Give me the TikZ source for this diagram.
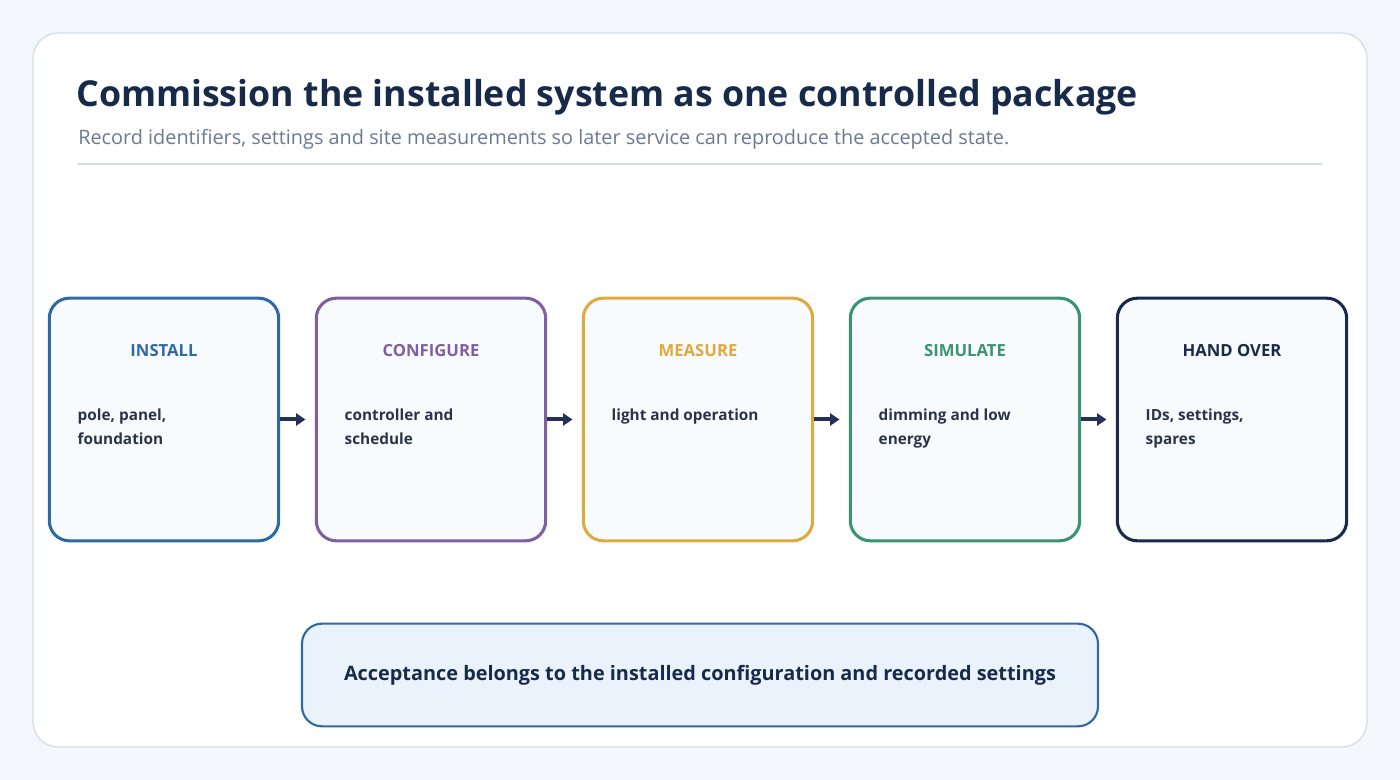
\documentclass[tikz,border=0pt]{standalone}
\usepackage{fontspec}
\setmainfont{Open Sans}
\newfontfamily\titlefont{Open Sans}
\newfontfamily\subfont{Open Sans}
\usetikzlibrary{arrows.meta}
\definecolor{bgpage}{HTML}{F4F7FB}
\definecolor{cardline}{HTML}{D5DDE8}
\definecolor{inkdark}{HTML}{172A4A}
\definecolor{inkbody}{HTML}{2A3448}
\definecolor{inkgrey}{HTML}{6B7A90}
\definecolor{stagefill}{HTML}{F8FBFE}
\definecolor{notefill}{HTML}{EAF2FB}
\definecolor{cinstall}{HTML}{2F6AA5}
\definecolor{cconfig}{HTML}{7F5FA0}
\definecolor{cmeasure}{HTML}{E0A940}
\definecolor{csimul}{HTML}{3A9470}
\definecolor{chand}{HTML}{172A4A}
\tikzset{
  stage/.style={draw=#1, line width=2.3pt, rounded corners=15pt, fill=stagefill,
    minimum width=172pt, minimum height=182pt, inner sep=0pt},
  head/.style={font=\bfseries\fontsize{12.5}{15}\selectfont, text=#1},
  body/.style={font=\bfseries\fontsize{11.5}{18}\selectfont, text=inkbody, align=left, anchor=north west},
  link/.style={-{Triangle[length=7pt,width=9pt]}, line width=3pt, draw=inkbody!90!blue, shorten >=7pt}
}
\begin{document}
\begin{tikzpicture}[x=0.75pt,y=-0.75pt]
    % Page and card
    \fill[bgpage] (0,0) rectangle (1400,780);
    \useasboundingbox (0,0) rectangle (1400,780);
    \draw[cardline, fill=white, line width=1pt, rounded corners=19pt] (33,33) rectangle (1367,747);

    % Title
    \node[anchor=base west, inner sep=0pt, text=inkdark, font=\titlefont\bfseries\fontsize{26.8}{30}\selectfont] (title) at (76,107) {Commission the installed system as one controlled package};
    \node[anchor=base west, inner sep=0pt, text=inkgrey, font=\subfont\fontsize{14.9}{17}\selectfont] (subtitle) at (78,145) {Record identifiers, settings and site measurements so later service can reproduce the accepted state.};
    \draw[cardline, line width=1pt] (78,164) -- (1322,164);

    % Stages
    \foreach \name/\x/\col/\lbl/\txt in {
        install/164/cinstall/INSTALL/{pole, panel,\\foundation},
        config/431/cconfig/CONFIGURE/{controller and\\schedule},
        measure/698/cmeasure/MEASURE/{light and operation},
        simul/965/csimul/SIMULATE/{dimming and low\\energy},
        hand/1232/chand/HAND OVER/{IDs, settings,\\spares}} {
        \node[stage=\col] (\name) at (\x,419.5) {};
        \node[head=\col] (\name-head) at (\x,351) {\lbl};
        \node[body] (\name-body) at (\x-91,404) {\txt};
    }

    % Links
    \draw[link] (install.east) -- (config.west);
    \draw[link] (config.east) -- (measure.west);
    \draw[link] (measure.east) -- (simul.west);
    \draw[link] (simul.east) -- (hand.west);

    % Bottom note
    \node[draw=cinstall, line width=1.6pt, fill=notefill, rounded corners=15pt,
        minimum width=597pt, minimum height=77pt, text=inkdark,
        font=\bfseries\fontsize{14.9}{18}\selectfont] (note) at (700,675) {Acceptance belongs to the installed configuration and recorded settings};
\end{tikzpicture}
\end{document}
